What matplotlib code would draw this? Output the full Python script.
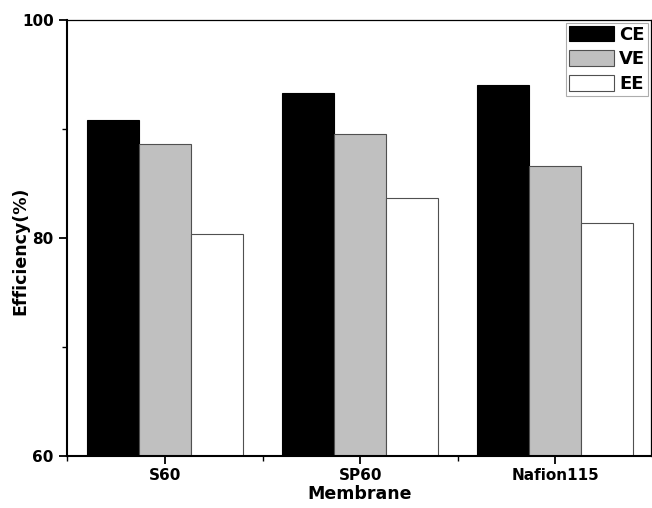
import matplotlib
matplotlib.use('Agg')
import matplotlib.pyplot as plt
import numpy as np

# membranes and efficiencies (%)
membranes = ['S60', 'SP60', 'Nafion115']
ce = [90.8, 93.3, 94.0]
ve = [88.6, 89.5, 86.6]
ee = [80.4, 83.7, 81.4]

plt.rcParams['font.family'] = 'DejaVu Sans'
plt.rcParams['font.weight'] = 'bold'

fig = plt.figure(figsize=(6.52, 5.08), dpi=100)
ax = fig.add_axes([0.1035, 0.1024, 0.895, 0.8582])

x = np.arange(1, len(membranes) + 1)
w = 0.8 / 3

ax.bar(x - w, ce, w, bottom=0, color='black', edgecolor='black', linewidth=0.8, label='CE')
ax.bar(x, ve, w, color='#c0c0c0', edgecolor='#505050', linewidth=0.8, label='VE')
ax.bar(x + w, ee, w, color='white', edgecolor='#505050', linewidth=0.8, label='EE')

ax.set_xlim(0.5, 3.49)
ax.set_ylim(60, 100)
ax.set_xticks(x)
ax.set_xticklabels(membranes)
ax.set_xticks([0.5, 1.5, 2.5], minor=True)
ax.set_yticks([60, 80, 100])
ax.set_yticks([70, 90], minor=True)

ax.tick_params(axis='both', which='major', direction='out', length=6, width=1.3, labelsize=11, pad=3)
ax.tick_params(axis='both', which='minor', direction='out', length=3.5, width=1.0)
ax.tick_params(axis='y', which='major', pad=4)

for s in ['left', 'bottom']:
    ax.spines[s].set_linewidth(1.5)
for s in ['top', 'right']:
    ax.spines[s].set_linewidth(0.9)

ax.set_xlabel('Membrane', fontsize=12.5, fontweight='bold', labelpad=1)
ax.set_ylabel('Efficiency(%)', fontsize=12.5, fontweight='bold')
ax.yaxis.set_label_coords(-0.066, 0.47)

leg = ax.legend(loc='upper right', bbox_to_anchor=(1, 1), fontsize=13, frameon=True,
                fancybox=False, edgecolor='#999999', borderaxespad=0.15, borderpad=0.16,
                handlelength=2.5, handleheight=0.97, labelspacing=0.37, handletextpad=0.3)
leg.get_frame().set_linewidth(0.8)
for t in leg.get_texts():
    t.set_fontweight('bold')

plt.savefig('out.png', dpi=100)
